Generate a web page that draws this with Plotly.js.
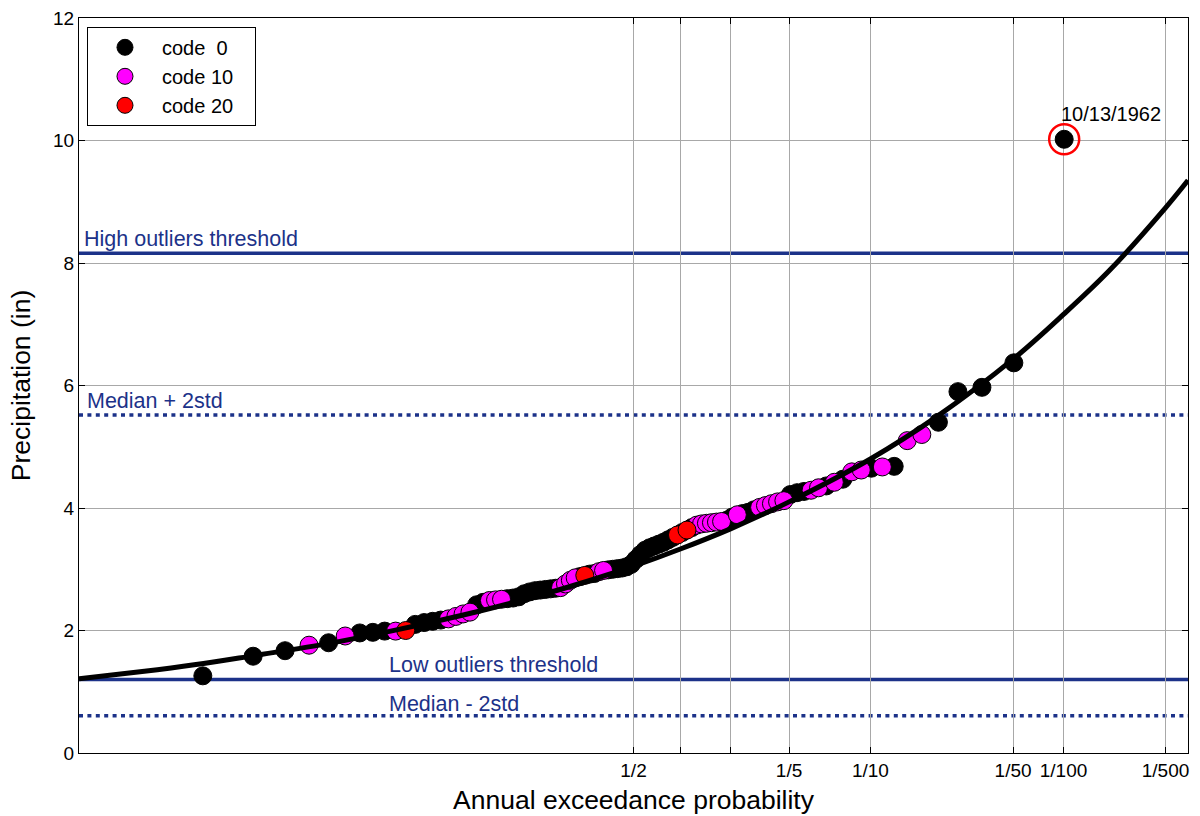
<!DOCTYPE html>
<html><head><meta charset="utf-8">
<script src="https://cdn.plot.ly/plotly-3.0.1.min.js"></script>
<style>html,body{margin:0;padding:0;background:#fff}#chart{width:1200px;height:816px}</style>
</head><body><div id="chart"></div>
<script>
// ---------- data ----------
// annual maxima, sorted ascending, with their data codes
const precipValues = [
  1.26, 1.58, 1.67, 1.76, 1.80, 1.91, 1.96, 1.97, 1.99, 1.99,
  2.00, 2.10, 2.13, 2.15, 2.17, 2.19, 2.23, 2.27, 2.30, 2.42,
  2.46, 2.49, 2.50, 2.51, 2.52, 2.53, 2.55, 2.60, 2.63, 2.65,
  2.66, 2.67, 2.68, 2.69, 2.70, 2.76, 2.82, 2.86, 2.88, 2.90,
  2.92, 2.93, 2.96, 2.98, 2.99, 3.00, 3.01, 3.02, 3.04, 3.08,
  3.16, 3.24, 3.31, 3.35, 3.38, 3.41, 3.44, 3.48, 3.52, 3.56,
  3.60, 3.64, 3.68, 3.72, 3.74, 3.75, 3.76, 3.77, 3.78, 3.80,
  3.85, 3.89, 3.91, 3.93, 3.97, 4.01, 4.04, 4.07, 4.10, 4.12,
  4.22, 4.25, 4.27, 4.29, 4.33, 4.36, 4.42, 4.47, 4.59, 4.62,
  4.65, 4.67, 4.68, 5.10, 5.20, 5.40, 5.90, 5.97, 6.37, 10.02
];
const precipCodes = [
  0, 0, 0, 10, 0, 10, 0, 0, 0, 10,
  20, 0, 0, 0, 0, 10, 10, 10, 10, 0,
  0, 10, 10, 10, 0, 0, 0, 0, 0, 0,
  0, 0, 0, 0, 10, 10, 10, 10, 0, 20,
  0, 0, 10, 10, 0, 0, 0, 0, 0, 0,
  0, 0, 0, 0, 0, 0, 0, 0, 0, 20,
  0, 20, 0, 10, 10, 10, 10, 10, 10, 0,
  0, 10, 0, 0, 0, 10, 10, 10, 10, 10,
  0, 0, 0, 10, 10, 0, 10, 0, 10, 10,
  0, 10, 0, 10, 10, 0, 0, 0, 0, 0
];
const codeList   = [0, 10, 20];
const codeLabels = ['code\u00a0\u00a00', 'code 10', 'code 20'];
const codeColors = ['#000000', '#ff00ff', '#ff0000'];

// fitted frequency curve
const curveAEP    = [0.99865, 0.995, 0.99, 0.98, 0.95, 0.9, 0.8, 0.7, 0.6, 0.5,
                     0.4, 0.3, 0.2, 0.1, 0.05, 0.02, 0.01, 0.005, 0.002, 0.00135];
const curveValues = [1.21, 1.36, 1.46, 1.59, 1.79, 2.01, 2.31, 2.56, 2.80, 3.05,
                     3.33, 3.66, 4.10, 4.80, 5.50, 6.43, 7.16, 7.88, 8.90, 9.35];

// threshold lines
const thresholdNames  = ['High outliers threshold', 'Median + 2std', 'Low outliers threshold', 'Median - 2std'];
const thresholdValues = [8.16, 5.52, 1.20, 0.61];

// axis
const tickAEP    = [0.5, 0.4, 0.3, 0.2, 0.1, 0.02, 0.01, 0.002];
const tickLabels = ['1/2', '', '', '1/5', '1/10', '1/50', '1/100', '1/500'];
const axisAEP    = [0.99865, 0.00135];
const outlierDate = '10/13/1962';

// ---------- normal probability scale ----------
function normInv(p){
  const a=[-3.969683028665376e+01,2.209460984245205e+02,-2.759285104469687e+02,1.383577518672690e+02,-3.066479806614716e+01,2.506628277459239e+00];
  const b=[-5.447609879822406e+01,1.615858368580409e+02,-1.556989798598866e+02,6.680131188771972e+01,-1.328068155288572e+01];
  const c=[-7.784894002430293e-03,-3.223964580411365e-01,-2.400758277161838e+00,-2.549732539343734e+00,4.374664141464968e+00,2.938163982698783e+00];
  const d=[7.784695709041462e-03,3.224671290700398e-01,2.445134137142996e+00,3.754408661907416e+00];
  const pl=0.02425, ph=1-pl; let q,r;
  if(p<pl){q=Math.sqrt(-2*Math.log(p));return (((((c[0]*q+c[1])*q+c[2])*q+c[3])*q+c[4])*q+c[5])/((((d[0]*q+d[1])*q+d[2])*q+d[3])*q+1);}
  if(p<=ph){q=p-0.5;r=q*q;return (((((a[0]*r+a[1])*r+a[2])*r+a[3])*r+a[4])*r+a[5])*q/(((((b[0]*r+b[1])*r+b[2])*r+b[3])*r+b[4])*r+1);}
  q=Math.sqrt(-2*Math.log(1-p));return -(((((c[0]*q+c[1])*q+c[2])*q+c[3])*q+c[4])*q+c[5])/((((d[0]*q+d[1])*q+d[2])*q+d[3])*q+1);
}
const toZ = aep => normInv(1 - aep);

// Weibull plotting position for ascending-sorted sample
const nObs = precipValues.length;
const obsAEP = precipValues.map((v, i) => (nObs - i) / (nObs + 1));
const obsZ = obsAEP.map(toZ);

const NAVY = '#1c3289';
const FONT = 'Liberation Sans, Arial, Helvetica, sans-serif';
const LEGEND_PAD = '\u00a0\u00a0\u00a0';

const traces = [];
codeList.forEach((code, k) => {
  const xs = [], ys = [];
  precipValues.forEach((v, i) => { if (precipCodes[i] === code) { xs.push(obsZ[i]); ys.push(v); } });
  traces.push({
    type: 'scatter', mode: 'markers', name: codeLabels[k] + LEGEND_PAD, x: xs, y: ys,
    marker: { size: 18, color: codeColors[k], line: { color: '#000', width: 1 } }
  });
});
traces.push({
  type: 'scatter', mode: 'lines', x: curveAEP.map(toZ), y: curveValues,
  line: { color: '#000', width: 5, shape: 'spline' }, showlegend: false, hoverinfo: 'skip'
});
const iMax = nObs - 1;
traces.push({
  type: 'scatter', mode: 'markers', x: [obsZ[iMax]], y: [precipValues[iMax]],
  marker: { size: 30, color: 'rgba(0,0,0,0)', line: { color: '#ff0000', width: 2.5 } },
  showlegend: false, hoverinfo: 'skip'
});

const dashes = ['solid', '4px,4.4px', 'solid', '4px,4.4px'];
const shapes = thresholdValues.map((v, k) => ({
  type: 'line', xref: 'paper', x0: 0, x1: 1, yref: 'y', y0: v, y1: v, layer: 'below',
  line: { color: NAVY, width: 3.5, dash: dashes[k] }
}));

const labelPos = [[0.003, 8.40], [0.005, 5.75], [0.278, 1.44], [0.278, 0.80]];
const annotations = thresholdNames.map((t, k) => ({
  text: t, xref: 'paper', yref: 'y', x: labelPos[k][0], y: labelPos[k][1],
  xanchor: 'left', yanchor: 'middle', showarrow: false,
  font: { family: FONT, size: 21.5, color: NAVY }
}));
annotations.push({
  text: outlierDate, xref: 'x', yref: 'y', x: obsZ[iMax], y: precipValues[iMax],
  xanchor: 'left', yanchor: 'bottom', yshift: 12, xshift: -5, showarrow: false,
  font: { family: FONT, size: 20, color: '#000' }
});

const layout = {
  width: 1200, height: 816,
  margin: { l: 79, r: 12, t: 18, b: 63 },
  paper_bgcolor: '#fff', plot_bgcolor: '#fff',
  font: { family: FONT, size: 18, color: '#000' },
  showlegend: true,
  legend: {
    x: 0.0072, y: 0.988, xanchor: 'left', yanchor: 'top',
    bgcolor: '#fff', bordercolor: '#000', borderwidth: 1,
    font: { family: FONT, size: 20, color: '#000' }, itemwidth: 64, traceorder: 'normal'
  },
  xaxis: {
    range: axisAEP.map(toZ), tickmode: 'array', tickvals: tickAEP.map(toZ), ticktext: tickLabels,
    ticks: 'inside', ticklen: 6, tickcolor: '#000', showline: true, linecolor: '#000', linewidth: 1,
    mirror: 'ticks', showgrid: true, gridcolor: '#a8a8a8', gridwidth: 1, zeroline: false,
    tickfont: { family: FONT, size: 19 },
    title: { text: 'Annual exceedance probability', font: { family: FONT, size: 26.5 }, standoff: 10 }
  },
  yaxis: {
    range: [0, 12], dtick: 2, ticks: 'inside', ticklen: 6, tickcolor: '#000',
    showline: true, linecolor: '#000', linewidth: 1, mirror: 'ticks',
    showgrid: true, gridcolor: '#a8a8a8', gridwidth: 1, zeroline: false,
    tickfont: { family: FONT, size: 19 },
    title: { text: 'Precipitation (in)', font: { family: FONT, size: 26.5 }, standoff: 14 }
  },
  shapes: shapes,
  annotations: annotations
};

Plotly.newPlot('chart', traces, layout, { displayModeBar: false, staticPlot: true });
</script></body></html>
